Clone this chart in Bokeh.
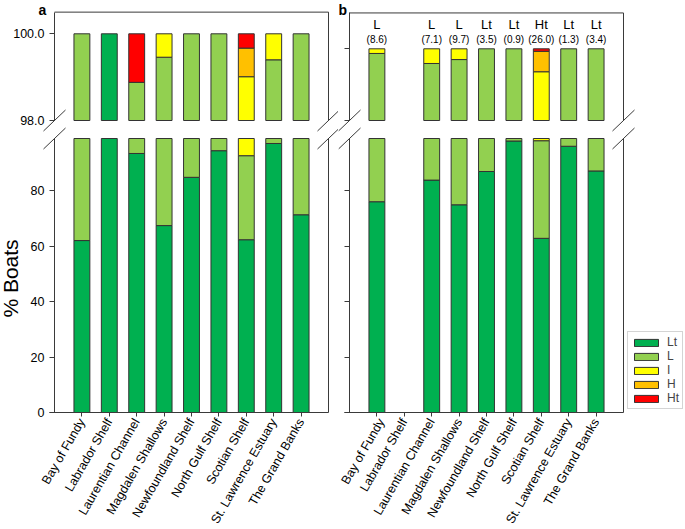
import numpy as np
from bokeh.plotting import figure
from bokeh.models import Range1d, LinearAxis, FixedTicker, NumeralTickFormatter, Legend, LegendItem
from bokeh.layouts import row
from bokeh.embed import file_html
from bokeh.resources import INLINE
from bokeh.core.properties import value

# ---------------- data ----------------
categories = ["Bay of Fundy", "Labrador Shelf", "Laurentian Channel", "Magdalen Shallows",
              "Newfoundland Shelf", "North Gulf Shelf", "Scotian Shelf",
              "St. Lawrence Estuary", "The Grand Banks"]
classes = ["Lt", "L", "I", "H", "Ht"]
class_colors = ["#00B050", "#92D050", "#FFFF00", "#FFC000", "#FF0000"]

# panel a (% boats)
a_Lt = [62.0, 100.0, 93.4, 67.4, 84.8, 94.4, 62.3, 97.0, 71.3]
a_L = [38.0, 0.0, 5.48, 32.06, 15.2, 5.6, 30.3, 2.4, 28.7]
a_I = [0.0, 0.0, 0.0, 0.54, 0.0, 0.0, 6.41, 0.6, 0.0]
a_H = [0.0, 0.0, 0.0, 0.0, 0.0, 0.0, 0.66, 0.0, 0.0]
a_Ht = [0.0, 0.0, 1.12, 0.0, 0.0, 0.0, 0.33, 0.0, 0.0]

# panel b (% boats), no data for Labrador Shelf
nan = float("nan")
b_Lt = [76.0, nan, 83.8, 74.9, 86.9, 97.9, 62.8, 96.0, 87.1]
b_L = [23.87, nan, 15.79, 24.8, 13.1, 2.1, 35.2, 4.0, 12.9]
b_I = [0.13, nan, 0.41, 0.30, 0.0, 0.0, 1.36, 0.0, 0.0]
b_H = [0.0, nan, 0.0, 0.0, 0.0, 0.0, 0.57, 0.0, 0.0]
b_Ht = [0.0, nan, 0.0, 0.0, 0.0, 0.0, 0.07, 0.0, 0.0]

b_class = ["L", "", "L", "L", "Lt", "Lt", "Ht", "Lt", "Lt"]
b_value = ["(8.6)", "", "(7.1)", "(9.7)", "(3.5)", "(0.9)", "(26.0)", "(1.3)", "(3.4)"]

y_ticks_low = [0, 20, 40, 60, 80]
y_ticks_top = [98, 100]
y_label = "% Boats"

# ---------------- geometry / style ----------------
FONT = "Liberation Sans"
H = 529
Y_ZERO = 412         # canvas y of 0 %
UNIT = 27.4          # px per category step
LOW_CUT = 98.8       # top of the lower segment
TOP_CUT = 98.0       # bottom of the upper segment
Y_LOW_TOP = 138      # canvas y of LOW_CUT
Y_98 = 120           # canvas y of 98 in the upper segment
BAR_W = 0.58
EDGE = "#333333"
LINE = "#3a3a3a"
low_ppu = (Y_ZERO - Y_LOW_TOP) / LOW_CUT
xs = np.arange(1, len(categories) + 1)
X_EDGE = len(categories) + 1


def make_panel(width, axis_px, top100_y, box_top, vals, letter, letter_px, show_labels):
    x0 = -axis_px / UNIT
    x1 = (width - axis_px) / UNIT
    top_ppu = (Y_98 - top100_y) / 2.0
    top_range = Range1d(TOP_CUT - (H - Y_98) / top_ppu, TOP_CUT + Y_98 / top_ppu)
    p = figure(width=width, height=H, x_range=Range1d(x0, x1),
               y_range=Range1d(-(H - Y_ZERO) / low_ppu, Y_ZERO / low_ppu), title=None,
               x_axis_location=None, y_axis_location=None,
               toolbar_location=None, output_backend="svg",
               min_border_left=0, min_border_right=0,
               min_border_top=0, min_border_bottom=0)
    p.extra_y_ranges = {"top": top_range}
    p.outline_line_color = None
    p.background_fill_color = "white"
    p.grid.visible = False

    # stacked bars, split into lower and upper segments
    lo = np.zeros(len(categories))
    legend_rs = []
    for name, color, v in zip(classes, class_colors, vals):
        v = np.nan_to_num(np.asarray(v, dtype=float))
        hi = lo + v
        lb, lt = np.clip(lo, 0, LOW_CUT), np.clip(hi, 0, LOW_CUT)
        m = (lt - lb) > 1e-6
        r1 = p.vbar(x=xs[m], bottom=lb[m], top=lt[m], width=BAR_W,
                    fill_color=color, line_color=EDGE, line_width=1)
        ub, ut = np.clip(lo, TOP_CUT, 100), np.clip(hi, TOP_CUT, 100)
        m2 = (ut - ub) > 1e-6
        r2 = p.vbar(x=xs[m2], bottom=ub[m2], top=ut[m2], width=BAR_W,
                    fill_color=color, line_color=EDGE, line_width=1, y_range_name="top")
        legend_rs.append(r1 if m.any() else r2)
        lo = hi

    # frame lines (top and right)
    p.segment(x0=[0], y0=[box_top], x1=[X_EDGE], y1=[box_top], y_range_name="top",
              line_color=LINE, line_width=1)
    p.segment(x0=[X_EDGE], y0=[TOP_CUT], x1=[X_EDGE], y1=[box_top], y_range_name="top",
              line_color=LINE, line_width=1)
    p.segment(x0=[X_EDGE], y0=[0], x1=[X_EDGE], y1=[LOW_CUT], line_color=LINE, line_width=1)

    # break marks
    dx = 11 / UNIT
    dyt = 10.5 / top_ppu
    dyl = 10.5 / low_ppu
    for e in (0, X_EDGE):
        p.segment(x0=[e - dx], y0=[TOP_CUT - dyt], x1=[e + dx], y1=[TOP_CUT + dyt],
                  y_range_name="top", line_color=LINE, line_width=1)
        p.segment(x0=[e - dx], y0=[LOW_CUT - dyl], x1=[e + dx], y1=[LOW_CUT + dyl],
                  line_color=LINE, line_width=1)

    # axes
    common = dict(axis_line_color=LINE, major_tick_line_color=LINE, major_tick_out=5,
                  major_tick_in=0, minor_tick_line_color=None,
                  major_label_text_font=FONT, major_label_text_font_size="12.5px",
                  major_label_text_color="black", major_label_standoff=5)
    ya = LinearAxis(fixed_location=0, bounds=(0, LOW_CUT),
                    ticker=FixedTicker(ticks=y_ticks_low), **common)
    yt = LinearAxis(y_range_name="top", fixed_location=0, bounds=(TOP_CUT, box_top),
                    ticker=FixedTicker(ticks=y_ticks_top),
                    formatter=NumeralTickFormatter(format="0.0"), **common)
    if not show_labels:
        ya.major_label_text_color = None
        yt.major_label_text_color = None
    p.add_layout(ya, "left")
    p.add_layout(yt, "left")

    xa = LinearAxis(fixed_location=0, bounds=(-0.18, X_EDGE),
                    ticker=FixedTicker(ticks=[int(i) for i in xs]),
                    major_label_overrides={int(i): c for i, c in zip(xs, categories)},
                    major_label_orientation=np.pi / 3,
                    axis_line_color=LINE, major_tick_line_color=LINE, major_tick_out=4,
                    major_tick_in=0, minor_tick_line_color=None,
                    major_label_text_font=FONT, major_label_text_font_size="12.5px",
                    major_label_text_color="black", major_label_standoff=3)
    p.add_layout(xa, "below")

    # panel letter (vertical middle at canvas y = 9)
    p.text(x=[(letter_px - axis_px) / UNIT], y=[top_range.end - 9 / top_ppu], text=[letter],
           y_range_name="top", text_align="left", text_baseline="middle",
           text_font=value(FONT), text_font_size="14px", text_font_style="bold",
           text_color="black")
    return p, legend_rs, top_ppu


pa, _, _ = make_panel(338, 54, 33.3, 100.5, [a_Lt, a_L, a_I, a_H, a_Ht], "a", 38, True)
pb, legend_rs, top_ppu_b = make_panel(347, 11, 48.3, 101.0, [b_Lt, b_L, b_I, b_H, b_Ht],
                                      "b", 0, False)

# y-axis title of panel a (rotated, vertical middle at canvas x = 10)
pa.text(x=[(10 - 54) / UNIT], y=[(Y_ZERO - 278) / low_ppu], text=[y_label], angle=np.pi / 2,
        text_align="center", text_baseline="middle", text_font=value(FONT),
        text_font_size="21px", text_color="black")

# class labels above panel b bars
idx = [i for i, c in enumerate(b_class) if c]
y_cls = 100 + (48.3 - 24) / top_ppu_b
y_val = 100 + (48.3 - 39) / top_ppu_b
pb.text(x=[xs[i] for i in idx], y=[y_cls] * len(idx), text=[b_class[i] for i in idx],
        y_range_name="top", text_align="center", text_baseline="middle",
        text_font=value(FONT), text_font_size="13px", text_color="black")
pb.text(x=[xs[i] for i in idx], y=[y_val] * len(idx), text=[b_value[i] for i in idx],
        y_range_name="top", text_align="center", text_baseline="middle",
        text_font=value(FONT), text_font_size="10px", text_color="black")

legend = Legend(items=[LegendItem(label=n, renderers=[r]) for n, r in zip(classes, legend_rs)],
                location=(289, H - 409), orientation="vertical",
                glyph_width=30, glyph_height=9, label_height=12, label_width=12,
                spacing=0, padding=3, margin=0, label_standoff=6,
                label_text_font=FONT, label_text_font_size="12px",
                border_line_color="#aaaaaa", background_fill_color="white",
                background_fill_alpha=1.0)
pb.add_layout(legend)

layout = row(pa, pb)
open("out.html", "w").write(file_html(layout, INLINE))
